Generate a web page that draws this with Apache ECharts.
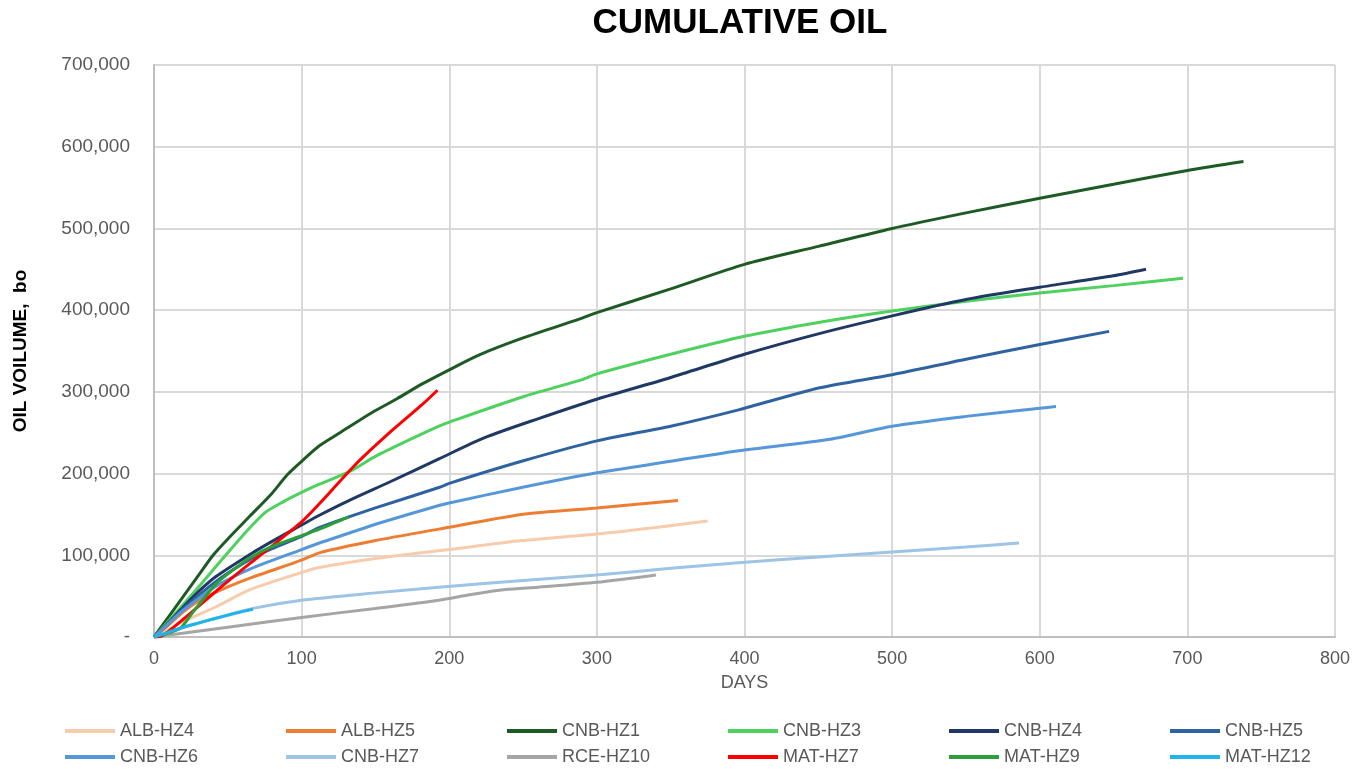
<!DOCTYPE html>
<html>
<head>
<meta charset="utf-8">
<script src="https://cdn.jsdelivr.net/npm/echarts@6/dist/echarts.min.js"></script>
<style>
  html, body { margin: 0; padding: 0; background: #fff; }
  #chart { width: 1354px; height: 769px; }
</style>
</head>
<body>
<div id="chart"></div>
<script>
// cumulative oil per well, [day, bo]
const ALB_HZ4 = [[0,0],[10,9000],[20,19000],[42,37000],[65,58000],[100,79000],[112,85000],[150,96000],[200,107000],[249,118000],[300,126000],[340,134000],[375,142000]];
const ALB_HZ5 = [[0,0],[10,15000],[20,31000],[31,45000],[42,55000],[65,72000],[100,94000],[112,103000],[150,118000],[193,132000],[249,150000],[300,158000],[355,167000]];
const CNB_HZ1 = [[0,0],[10,25000],[20,50000],[30,75000],[40,100000],[50,120000],[65,148000],[80,176000],[90,198000],[100,215000],[112,234000],[126,250000],[148,275000],[164,291000],[182,310000],[200,327000],[220,345000],[250,366000],[288,389000],[300,397000],[350,426000],[400,456000],[450,478000],[500,500000],[550,519000],[600,537000],[650,554000],[700,571000],[738,582000]];
const CNB_HZ3 = [[0,0],[10,20000],[20,40000],[40,82000],[60,124000],[75,152000],[88,166000],[100,177000],[112,187000],[132,202000],[150,221000],[175,243000],[193,258000],[200,263000],[250,294000],[290,315000],[300,322000],[350,346000],[400,368000],[450,385000],[500,399000],[550,411000],[600,421000],[650,430000],[697,439000]];
const CNB_HZ4 = [[0,0],[10,18000],[20,37000],[31,57000],[42,74000],[65,101000],[80,117000],[100,137000],[112,149000],[132,167000],[160,190000],[193,218000],[224,244000],[260,267000],[300,291000],[349,317000],[400,346000],[450,371000],[500,393000],[550,413000],[600,428000],[650,442000],[672,450000]];
const CNB_HZ5 = [[0,0],[10,17000],[20,35000],[42,68000],[65,95000],[80,108000],[100,123000],[112,134000],[132,147000],[150,158000],[193,183000],[200,188000],[249,215000],[300,240000],[350,258000],[396,278000],[451,305000],[500,321000],[550,340000],[600,358000],[647,374000]];
const CNB_HZ6 = [[0,0],[10,17000],[20,33000],[42,62000],[65,83000],[100,107000],[112,115000],[132,127000],[150,138000],[193,161000],[200,164000],[249,183000],[300,201000],[350,215000],[396,228000],[458,242000],[500,258000],[550,270000],[600,280000],[611,282000]];
const CNB_HZ7 = [[0,0],[10,6000],[20,12000],[42,23000],[67,35000],[100,45000],[150,54000],[193,61000],[250,69000],[300,76000],[350,84000],[396,91000],[450,98000],[500,104000],[550,110000],[586,115000]];
const RCE_HZ10 = [[0,0],[50,12000],[100,24000],[150,35000],[193,45000],[215,52000],[238,58000],[260,61000],[300,67000],[340,76000]];
const MAT_HZ7 = [[0,0],[5,1000],[20,22000],[42,56000],[65,90000],[100,141000],[112,163000],[137,212000],[162,254000],[182,285000],[192,302000]];
const MAT_HZ9 = [[0,0],[10,5000],[18,11000],[25,27000],[31,41000],[42,65000],[55,84000],[65,97000],[80,111000],[100,124000],[112,132000],[132,147000]];
const MAT_HZ12 = [[0,0],[10,6000],[20,12000],[30,17000],[42,23000],[55,29000],[67,34000]];

const wellNames = ['ALB-HZ4', 'ALB-HZ5', 'CNB-HZ1', 'CNB-HZ3', 'CNB-HZ4', 'CNB-HZ5',
                   'CNB-HZ6', 'CNB-HZ7', 'RCE-HZ10', 'MAT-HZ7', 'MAT-HZ9', 'MAT-HZ12'];
const wellData = [ALB_HZ4, ALB_HZ5, CNB_HZ1, CNB_HZ3, CNB_HZ4, CNB_HZ5,
                  CNB_HZ6, CNB_HZ7, RCE_HZ10, MAT_HZ7, MAT_HZ9, MAT_HZ12];
const wellColors = ['#f8cbad', '#ed7d31', '#1e5a24', '#4ed15e', '#203864', '#2f62a1',
                    '#5597d8', '#9dc3e6', '#a5a5a5', '#ff0000', '#2ca038', '#1fb4ec'];

const chart = echarts.init(document.getElementById('chart'));
const font = 'Liberation Sans, Arial, sans-serif';

const series = wellNames.map(function (name, i) {
  return {
    name: name,
    type: 'line',
    data: wellData[i],
    symbol: 'none',
    smooth: 0.25,
    color: wellColors[i],
    lineStyle: { width: 3, color: wellColors[i] }
  };
});

chart.setOption({
  backgroundColor: '#fff',
  animation: false,
  title: {
    text: 'CUMULATIVE OIL',
    left: 735,
    textAlign: 'center',
    top: 1,
    textStyle: { fontFamily: font, fontSize: 35, fontWeight: 'bold', color: '#000' }
  },
  grid: { left: 154, right: 19, top: 65, bottom: 132 },
  xAxis: {
    type: 'value',
    min: 0,
    max: 800,
    interval: 100,
    name: 'DAYS',
    nameLocation: 'middle',
    nameGap: 37,
    nameTextStyle: { fontFamily: font, fontSize: 18, color: '#595959' },
    axisLine: { lineStyle: { color: '#bfbfbf', width: 2 } },
    axisTick: { show: false },
    axisLabel: { fontFamily: font, fontSize: 18, color: '#595959', margin: 13 },
    splitLine: { lineStyle: { color: '#d9d9d9', width: 2 } }
  },
  yAxis: {
    type: 'value',
    min: 0,
    max: 700000,
    interval: 100000,
    name: 'OIL VOILUME,  bo',
    nameLocation: 'middle',
    nameGap: 124,
    nameTextStyle: { fontFamily: font, fontSize: 19, fontWeight: 'bold', color: '#000' },
    axisLine: { show: true, lineStyle: { color: '#bfbfbf', width: 2 } },
    axisTick: { show: false },
    axisLabel: {
      fontFamily: font, fontSize: 19, color: '#595959', margin: 24,
      formatter: function (v) { return v === 0 ? '-' : v.toLocaleString('en-US'); }
    },
    splitLine: { lineStyle: { color: '#d9d9d9', width: 2 } }
  },
  legend: {
    data: wellNames,
    icon: 'rect',
    left: 60,
    top: 717,
    width: 1330,
    itemWidth: 50,
    itemHeight: 4,
    itemGap: 8,
    textStyle: { fontFamily: font, fontSize: 18, color: '#595959', width: 158, lineHeight: 16, overflow: 'truncate' }
  },
  series: series
});
</script>
</body>
</html>
